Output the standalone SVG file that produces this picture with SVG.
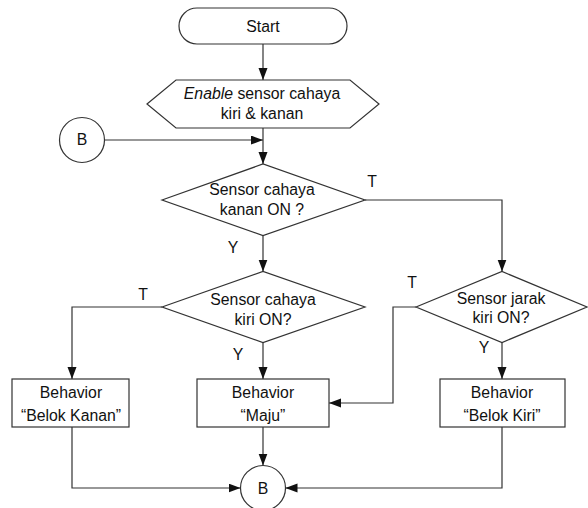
<svg xmlns="http://www.w3.org/2000/svg" width="588" height="508" viewBox="0 0 588 508">
<defs>
<style>
.shape{fill:#ffffff;stroke:#333333;stroke-width:1.2}
.conn{fill:none;stroke:#333333;stroke-width:1.2}
.t{font-family:"Liberation Sans",Arial,sans-serif;font-size:15.8px;fill:#111111;text-anchor:middle}
</style>
<marker id="arr" markerUnits="userSpaceOnUse" markerWidth="12" markerHeight="10" refX="12" refY="4.5" orient="auto">
<path d="M0,0 L12,4.5 L0,9 z" fill="#111111"/>
</marker>
</defs>
<rect width="588" height="508" fill="#ffffff"/>
<g id="connectors">
<path class="conn" d="M263,44 V80" marker-end="url(#arr)"/>
<path class="conn" d="M104.5,140 H263" marker-end="url(#arr)"/>
<path class="conn" d="M263,128 V164" marker-end="url(#arr)"/>
<path class="conn" d="M263,235.5 V271.5" marker-end="url(#arr)"/>
<path class="conn" d="M365,200 H502 V271.5" marker-end="url(#arr)"/>
<path class="conn" d="M162,307 H72 V379" marker-end="url(#arr)"/>
<path class="conn" d="M263,342.5 V379" marker-end="url(#arr)"/>
<path class="conn" d="M416,307 H393 V403 H329" marker-end="url(#arr)"/>
<path class="conn" d="M502,342.5 V379" marker-end="url(#arr)"/>
<path class="conn" d="M72,427 V488 H240.5" marker-end="url(#arr)"/>
<path class="conn" d="M263,427 V465.5" marker-end="url(#arr)"/>
<path class="conn" d="M502,427 V488 H285.5" marker-end="url(#arr)"/>
</g>
<g id="start">
<rect class="shape" x="179" y="8" width="168" height="36" rx="18" ry="18"/>
<text class="t" x="263" y="32">Start</text>
</g>
<g id="enable">
<polygon class="shape" points="147,104 176,80 350,80 379,104 350,128 176,128"/>
<text class="t" x="262" y="99"><tspan font-style="italic">Enable</tspan> sensor cahaya</text>
<text class="t" x="262" y="119">kiri &amp; kanan</text>
</g>
<g id="connector-b-top">
<circle class="shape" cx="82" cy="140" r="22.5"/>
<text class="t" x="82" y="145">B</text>
</g>
<g id="decision-kanan">
<polygon class="shape" points="162,200 263,164 365,200 263,235.5"/>
<text class="t" x="262" y="195">Sensor cahaya</text>
<text class="t" x="262" y="215">kanan ON ?</text>
<text class="t" x="372" y="187">T</text>
<text class="t" x="233" y="253">Y</text>
</g>
<g id="decision-kiri">
<polygon class="shape" points="162,307 263,271.5 365,307 263,342.5"/>
<text class="t" x="263" y="305">Sensor cahaya</text>
<text class="t" x="263" y="325">kiri ON?</text>
<text class="t" x="143" y="300">T</text>
<text class="t" x="238" y="360">Y</text>
</g>
<g id="decision-jarak">
<polygon class="shape" points="416,307 502,271.5 587,307 502,342.5"/>
<text class="t" x="501" y="304">Sensor jarak</text>
<text class="t" x="501" y="323">kiri ON?</text>
<text class="t" x="412" y="288">T</text>
<text class="t" x="484" y="353">Y</text>
</g>
<g id="belok-kanan">
<rect class="shape" x="12" y="379" width="117" height="48"/>
<text class="t" x="71" y="398">Behavior</text>
<text class="t" x="71" y="421">“Belok Kanan”</text>
</g>
<g id="maju">
<rect class="shape" x="197" y="379" width="132" height="48"/>
<text class="t" x="263" y="398">Behavior</text>
<text class="t" x="263" y="421">“Maju”</text>
</g>
<g id="belok-kiri">
<rect class="shape" x="440" y="379" width="125" height="48"/>
<text class="t" x="502" y="398">Behavior</text>
<text class="t" x="502" y="421">“Belok Kiri”</text>
</g>
<g id="connector-b-bottom">
<circle class="shape" cx="263" cy="488" r="22.5"/>
<text class="t" x="263" y="494">B</text>
</g>
</svg>
